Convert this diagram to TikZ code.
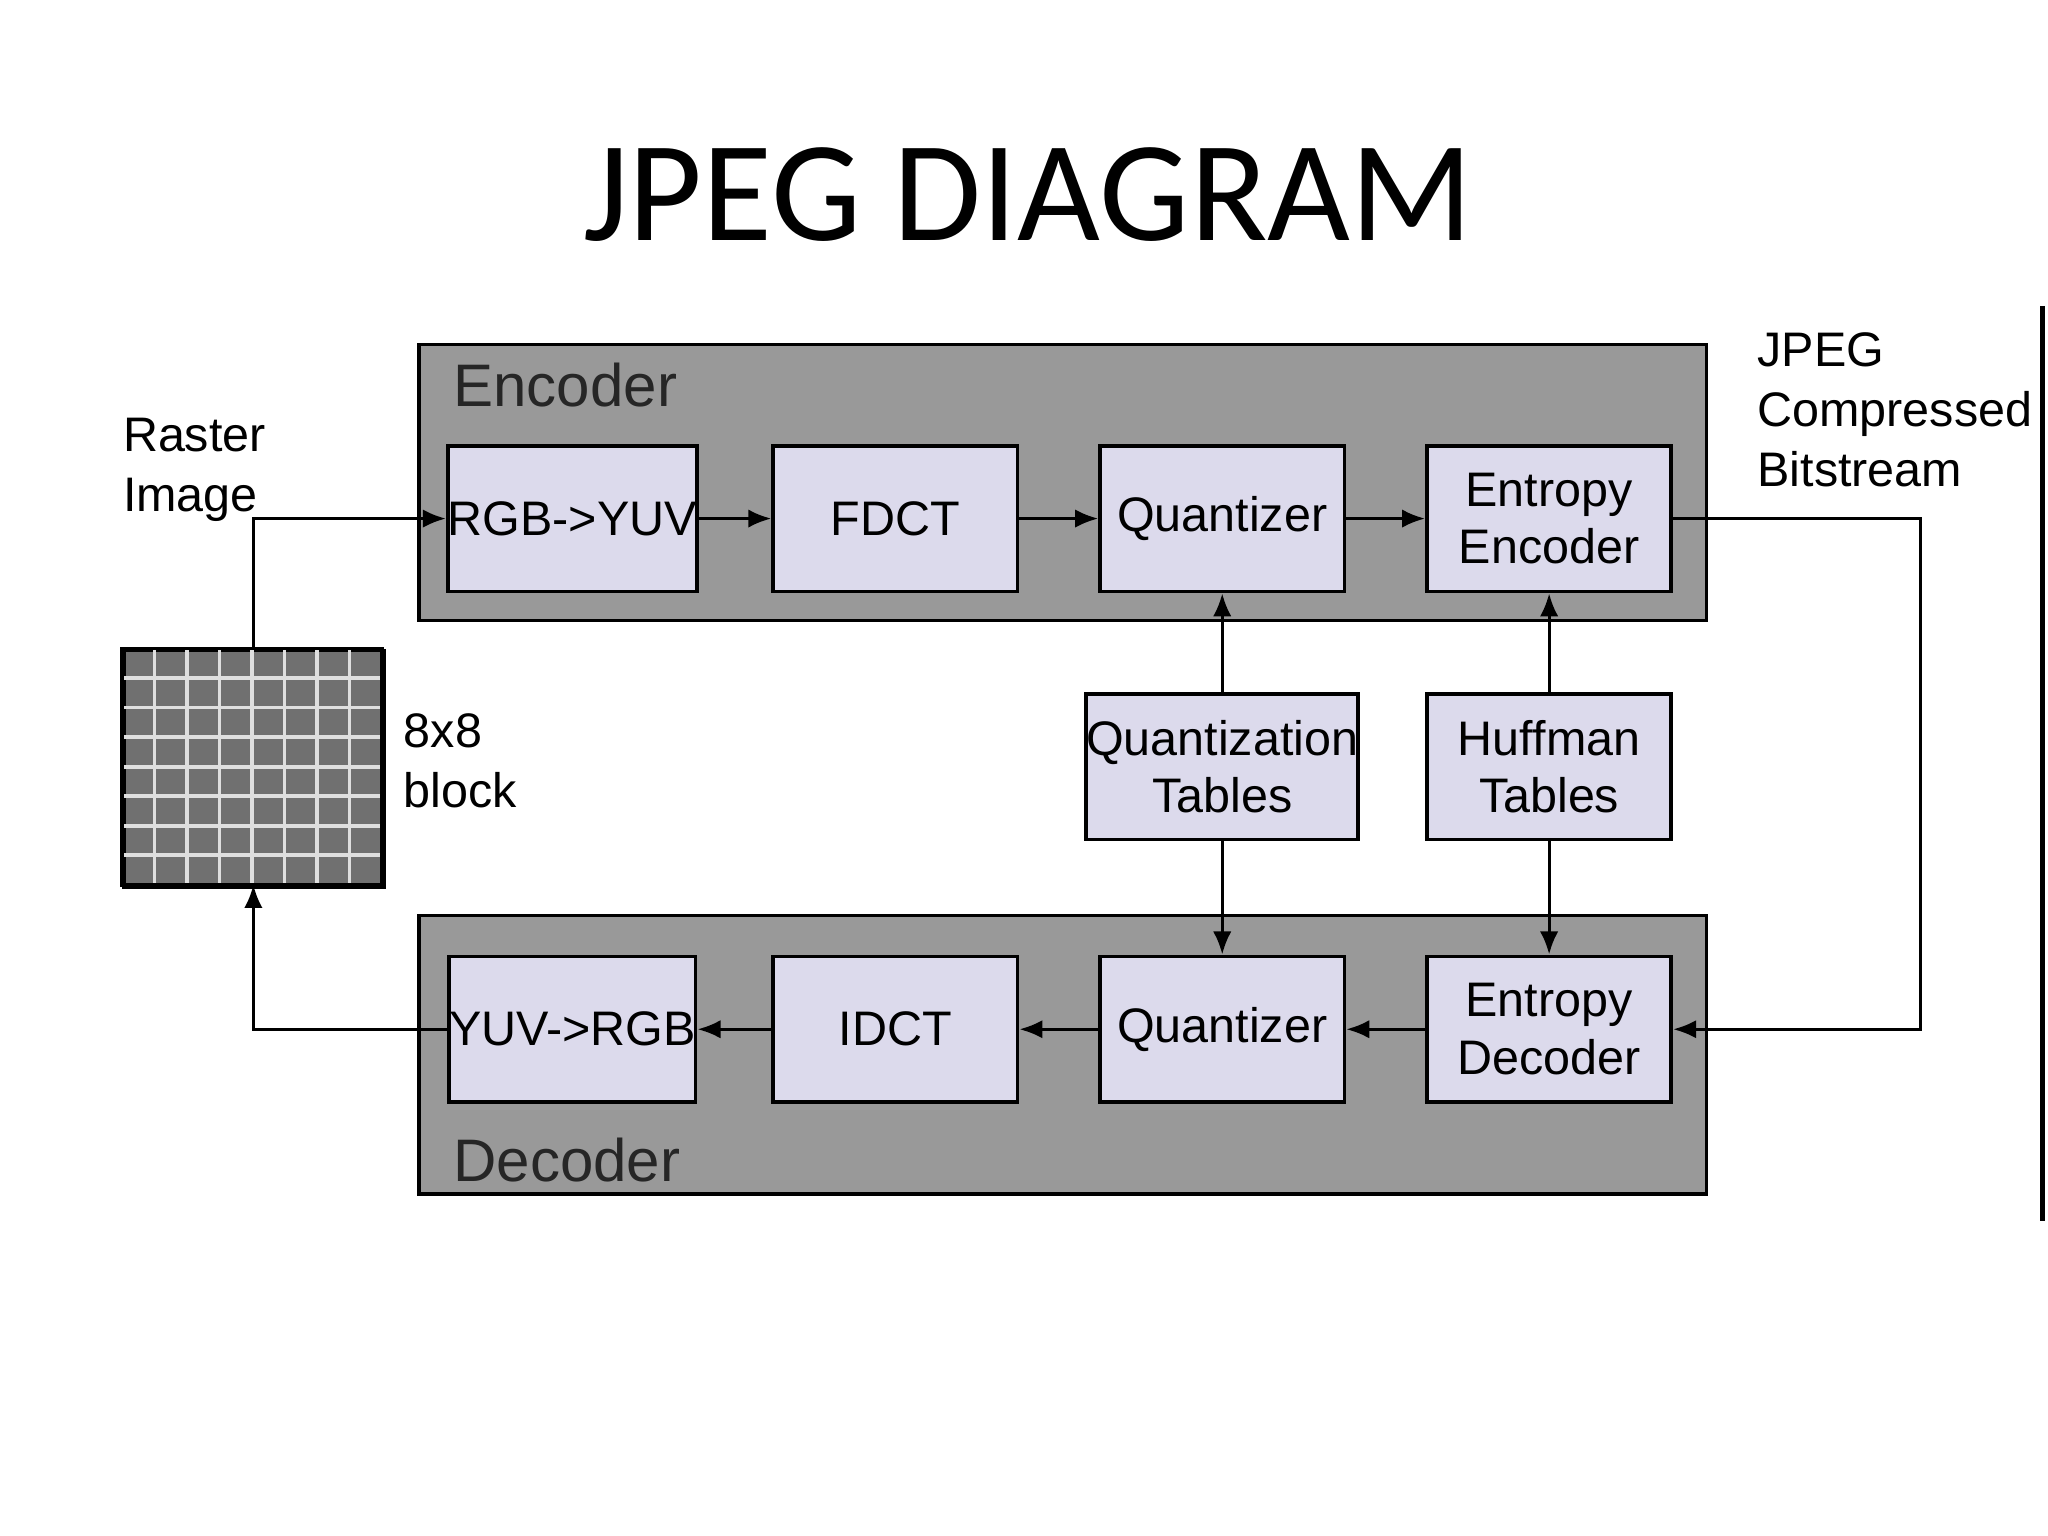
\documentclass[tikz,border=0pt]{standalone}
\usepackage{fontspec}
\setmainfont{Liberation Sans}
\newfontfamily\titlefont{Carlito}
\usetikzlibrary{arrows.meta}
\begin{document}
\begin{tikzpicture}[x=0.01cm,y=-0.01cm,
  blk/.style={draw=black,fill=black!2!blue!12!white,fill=lavbox,minimum width=1.86cm,minimum height=1.11cm,align=center,font=\fontsize{10.5}{12.5}\selectfont,inner sep=0pt,line width=0.8pt},
  grp/.style={draw=black,fill=gray!80,line width=0.8pt},
  ar/.style={-{Latex[length=5pt,width=4pt]},line width=0.7pt},
  ln/.style={line width=0.7pt},
  lbl/.style={align=left,font=\fontsize{10.5}{13}\selectfont,inner sep=0pt}]
\definecolor{lavbox}{HTML}{DCDAEC}
\useasboundingbox (0,0) rectangle (1560,1170);
\node[font=\titlefont\fontsize{31}{36}\selectfont] (title) at (783,148) {JPEG DIAGRAM};
% groups
\node[grp,anchor=north west,minimum width=9.80cm,minimum height=2.10cm] (enc) at (318,261) {};
\node[anchor=west,font=\fontsize{13}{15}\selectfont,text=black!85] (encl) at (333,293) {Encoder};
\node[grp,anchor=north west,minimum width=9.80cm,minimum height=2.12cm] (dec) at (318,696) {};
\node[anchor=west,font=\fontsize{13}{15}\selectfont,text=black!85] (decl) at (333,884) {Decoder};
% encoder blocks
\node[blk] (rgb) at (436,395) {RGB->YUV};
\node[blk] (fdct) at (682,395) {FDCT};
\node[blk] (qe) at (931,395) {Quantizer};
\node[blk] (ee) at (1180,395) {Entropy\\Encoder};
% tables
\node[blk] (qt) at (931,584) {Quantization\\Tables};
\node[blk] (ht) at (1180,584) {Huffman\\Tables};
% decoder blocks
\node[blk] (yuv) at (436,784) {YUV->RGB};
\node[blk] (idct) at (682,784) {IDCT};
\node[blk] (qd) at (931,784) {Quantizer};
\node[blk] (ed) at (1180,784) {Entropy\\Decoder};
% grid
\node[draw=black,fill=gray!75!black!90,anchor=north west,minimum width=1.98cm,minimum height=1.80cm,inner sep=0pt,line width=0.8pt] (grid) at (93,494) {};
\foreach \i in {1,...,7}{
  \draw[white!75!gray,line width=0.8pt] (93+\i*24.75,494) -- (93+\i*24.75,674);
  \draw[white!75!gray,line width=0.8pt] (93,494+\i*22.5) -- (291,494+\i*22.5);
}
\draw[line width=0.8pt] (93,494) rectangle (291,674);
% labels
\node[lbl,anchor=north west] (raster) at (93,318) {Raster\\Image};
\node[lbl,anchor=north west] (blk8) at (307,543) {8x8\\block};
\node[lbl,anchor=north west] (jpeg) at (1338,253) {JPEG\\Compressed\\Bitstream};
\coordinate (vt) at (1556,233);
\coordinate (vb) at (1556,930);
\draw[line width=1pt] (vt) -- (vb);
% arrows
\coordinate (gt) at (193,494);
\coordinate (gb) at (193,674);
\draw[ar] (gt) |- (rgb.west);
\draw[ar] (rgb) -- (fdct);
\draw[ar] (fdct) -- (qe);
\draw[ar] (qe) -- (ee);
\coordinate (c1) at (1463,395);
\coordinate (c2) at (1463,784);
\draw[ar] (ee.east) -- (c1) -- (c2) -- (ed.east);
\draw[ar] (ed) -- (qd);
\draw[ar] (qd) -- (idct);
\draw[ar] (idct) -- (yuv);
\coordinate (c3) at (193,784);
\draw[ar] (yuv.west) -- (c3) -- (gb);
\draw[ar] (qt) -- (qe);
\draw[ar] (qt) -- (qd);
\draw[ar] (ht) -- (ee);
\draw[ar] (ht) -- (ed);
\end{tikzpicture}
\end{document}
